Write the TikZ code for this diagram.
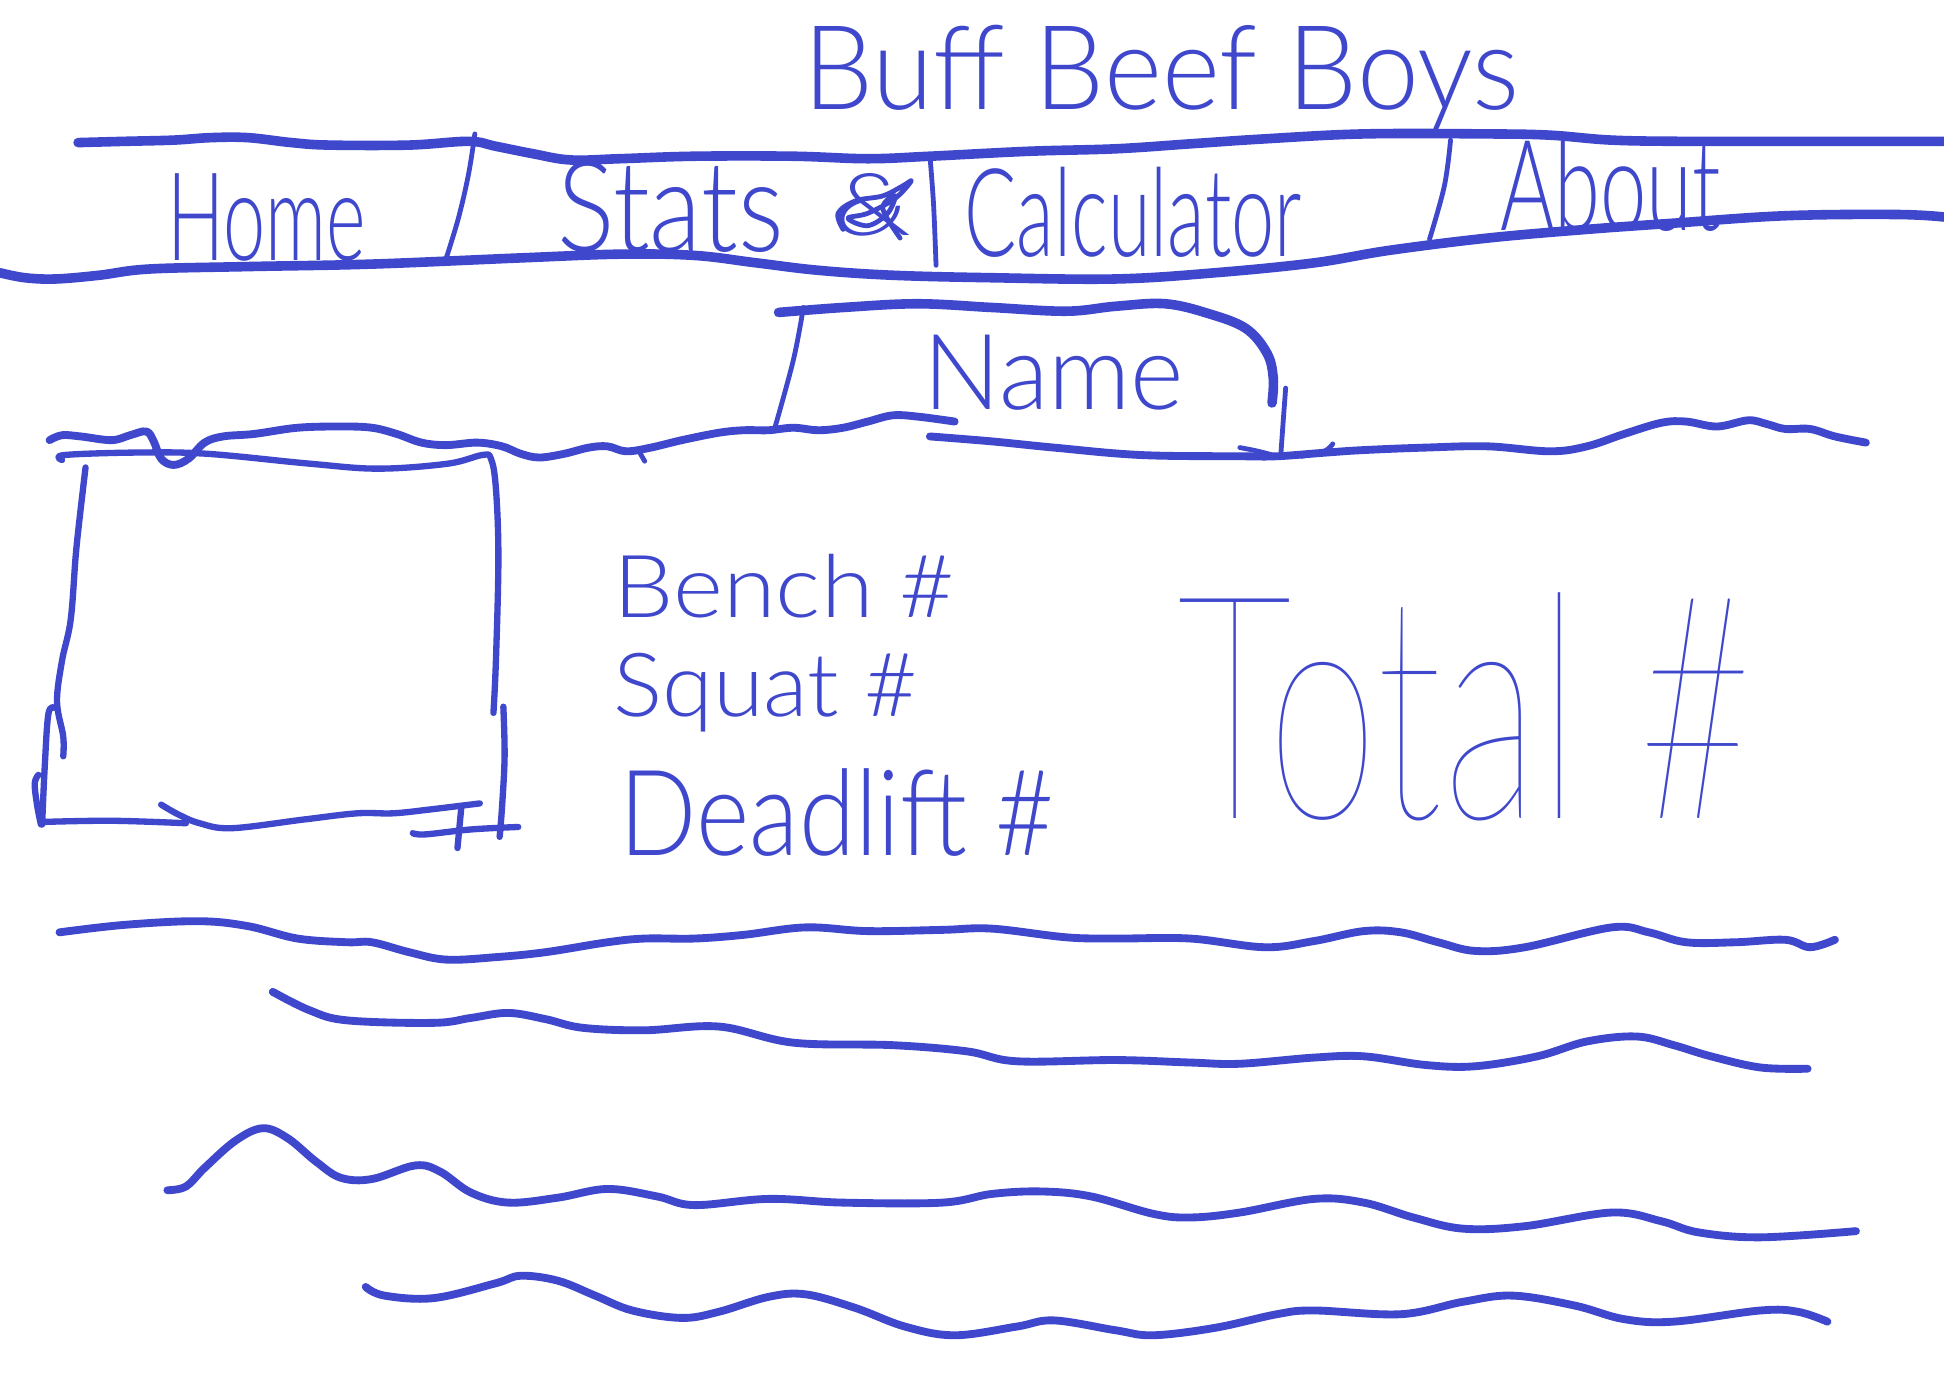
\documentclass[tikz,border=0pt]{standalone}
\usepackage{fontspec}
\IfFontExistsTF{Lato Thin}{\setmainfont{Lato Thin}}{\setmainfont{Liberation Sans}}
\IfFontExistsTF{Lato Light}{\newfontfamily\penfont{Lato Light}}{\newfontfamily\penfont{Liberation Sans}}
\usepackage{graphicx}
\definecolor{ink}{RGB}{63,72,204}
\newlength\uu \setlength\uu{0.1mm}
\newcommand\fittext[3]{\resizebox{#1\uu}{#2\uu}{\penfont #3}}
\newcommand\fitthin[3]{\resizebox{#1\uu}{#2\uu}{#3}}
\tikzset{
 heavy/.style={draw=ink, line width=2.2pt, line cap=round, line join=round},
 wavy/.style={draw=ink, line width=1.8pt, line cap=round, line join=round},
 medium/.style={draw=ink, line width=1.45pt, line cap=round, line join=round},
 fine/.style={draw=ink, line width=1.1pt, line cap=round, line join=round},
 lbl/.style={inner sep=0pt, outer sep=0pt, anchor=base west, text=ink},
 sm/.style={smooth, tension=0.6},
}
\begin{document}
\begin{tikzpicture}[x=0.01cm,y=-0.01cm]
\useasboundingbox[fill=white] (0,0) rectangle (1568,1123);

% ---------- title ----------
\node[lbl] (title) at (648,88) {\fittext{577}{68}{Buff Beef Boys}};

% ---------- navigation bar ----------
\draw[heavy] plot[sm] coordinates {(63,115) (100,114) (140,113) (170,111) (200,111) (235,115) (265,117) (330,117) (378,114) (400,118) (430,124) (460,129) (500,128) (560,126) (640,126) (700,128) (750,126) (830,122) (900,120) (960,116) (1020,112) (1100,108) (1200,108) (1250,109) (1300,113) (1360,114) (1450,114) (1568,114)};
\draw[heavy] plot[sm] coordinates {(0,220) (20,224) (45,225) (80,222) (120,217) (200,215) (300,213) (420,208) (500,205) (560,206) (610,212) (660,218) (720,222) (800,224) (900,225) (980,220) (1060,212) (1120,202) (1200,192) (1280,185) (1350,180) (1440,174) (1530,173) (1568,175)};
\draw[fine] plot[sm] coordinates {(383,108) (378,140) (370,175) (360,208)};
\draw[fine] plot[sm] coordinates {(750,125) (753,165) (755,214)};
\draw[fine] plot[sm] coordinates {(1170,113) (1165,150) (1153,193)};

\node[lbl] (home) at (135,210) {\fittext{160}{70}{Home}};
\node[lbl] (stats) at (450,203) {\fittext{182}{73}{Stats}};
\node[lbl] (amp) at (672,190) {\fittext{63}{50}{\&}};
\draw[fine] plot[sm] coordinates {(680,185) (676,172) (690,162) (712,158) (728,150) (735,146) (722,160) (700,172) (684,176) (700,182) (716,172) (722,158) (712,168) (726,192)};
\node[lbl] (calc) at (778,207) {\fittext{272}{72}{Calculator}};
\node[lbl] (about) at (1210,186) {\fittext{178}{74}{About}};

% ---------- name tab ----------
\draw[fine] plot[sm] coordinates {(648,248) (640,290) (625,345)};
\draw[heavy] plot[sm] coordinates {(628,252) (680,248) (740,245) (800,248) (860,251) (900,247) (940,245) (975,253) (1005,265) (1022,285) (1027,305) (1026,325)};
\draw[fine] plot[sm] coordinates {(1037,313) (1035,340) (1033,368)};
\node[lbl] (name) at (745,330) {\fittext{210}{60}{Name}};

% ---------- wavy separator ----------
\draw[wavy] plot[sm] coordinates {(40,355) (50,351) (65,352) (90,355) (105,351) (118,348) (124,356) (130,370) (140,375) (152,370) (165,357) (180,352) (205,350) (240,345) (275,344) (300,345) (320,350) (340,357) (360,359) (385,357) (405,360) (420,366) (435,369) (455,366) (475,361) (490,360) (505,364) (525,361) (550,355) (580,349) (600,347) (620,347) (640,345) (660,347) (680,345) (700,340) (720,335) (740,336) (770,340)};
\draw[fine] (516,365) -- (520,372);
\draw[wavy] plot[sm] coordinates {(750,352) (800,356) (850,361) (920,367) (1000,368) (1030,368) (1070,365) (1100,363) (1150,361) (1200,360) (1250,364) (1280,360) (1310,350) (1340,341) (1360,340) (1385,344) (1410,339) (1425,342) (1440,346) (1460,346) (1480,352) (1505,357)};
\draw[fine] plot[sm] coordinates {(1000,361) (1015,364) (1030,368)};
\draw[fine] plot[sm] coordinates {(1075,358) (1068,364) (1050,368)};

% ---------- picture box ----------
\draw[medium] plot[sm] coordinates {(50,371) (52,367) (111,365) (167,366) (250,374) (305,378) (361,374) (389,367) (396,370) (400,394) (402,450) (400,533) (398,575)};
\draw[medium] plot[sm] coordinates {(69,377) (64,420) (61,449) (57,500) (50,533) (46,566) (51,594) (51,610)};
\draw[medium] plot[sm] coordinates {(44,571) (39,576) (36,620) (34,665)};
\draw[medium] plot[sm] coordinates {(31,625) (28,632) (30,650) (33,665)};
\draw[medium] plot[sm] coordinates {(33,663) (90,662) (150,664)};
\draw[medium] plot[sm] coordinates {(130,649) (144,657) (161,664) (187,668) (245,661) (288,656) (317,656) (346,653) (387,648)};
\draw[medium] plot[sm] coordinates {(406,570) (407,610) (405,650) (403,675)};
\draw[medium] plot[sm] coordinates {(333,672) (343,673) (380,669) (418,667)};
\draw[medium] (372,652) -- (369,684);

% ---------- lift numbers ----------
\node[lbl] (bench) at (495,498) {\fittext{275}{51}{Bench \#}};
\node[lbl] (squat) at (495,578) {\fittext{245}{51}{Squat \#}};
\node[lbl] (dead) at (500,690) {\fittext{350}{70}{Deadlift \#}};
\node[lbl] (total) at (950,660) {\fitthin{465}{182}{Total \#}};

% ---------- text lines ----------
\draw[wavy] plot[sm] coordinates {(48,752) (100,746) (160,743) (200,747) (240,757) (280,760) (300,760) (330,768) (360,774) (400,772) (440,768) (490,760) (520,757) (560,757) (600,754) (650,748) (700,751) (760,750) (800,749) (860,756) (900,757) (960,757) (1020,764) (1060,759) (1100,751) (1130,752) (1160,760) (1190,767) (1230,764) (1300,748) (1330,752) (1360,760) (1400,760) (1440,758) (1460,764) (1480,758)};
\draw[wavy] plot[sm] coordinates {(220,800) (250,815) (280,823) (350,825) (380,821) (410,817) (440,822) (470,829) (520,831) (580,828) (640,841) (720,843) (780,848) (820,856) (900,855) (960,857) (1000,858) (1060,853) (1100,852) (1150,859) (1190,860) (1240,852) (1280,840) (1320,836) (1350,843) (1380,852) (1420,861) (1458,862)};
\draw[wavy] plot[sm] coordinates {(135,960) (150,957) (165,942) (190,920) (212,910) (232,918) (255,937) (275,950) (300,951) (335,940) (355,945) (380,962) (410,970) (450,966) (490,959) (530,965) (560,972) (620,967) (680,970) (760,970) (800,963) (840,961) (880,965) (930,979) (960,982) (1000,978) (1060,967) (1100,970) (1140,982) (1180,991) (1230,989) (1300,978) (1340,985) (1370,994) (1420,998) (1497,993)};
\draw[wavy] plot[sm] coordinates {(295,1038) (310,1045) (350,1047) (400,1035) (420,1029) (450,1033) (480,1045) (510,1057) (550,1063) (580,1058) (620,1046) (650,1044) (690,1055) (730,1070) (770,1077) (820,1070) (850,1065) (900,1073) (930,1077) (980,1071) (1030,1060) (1060,1057) (1130,1060) (1180,1050) (1220,1045) (1270,1053) (1310,1064) (1350,1066) (1420,1057) (1450,1058) (1474,1066)};
\end{tikzpicture}
\end{document}
